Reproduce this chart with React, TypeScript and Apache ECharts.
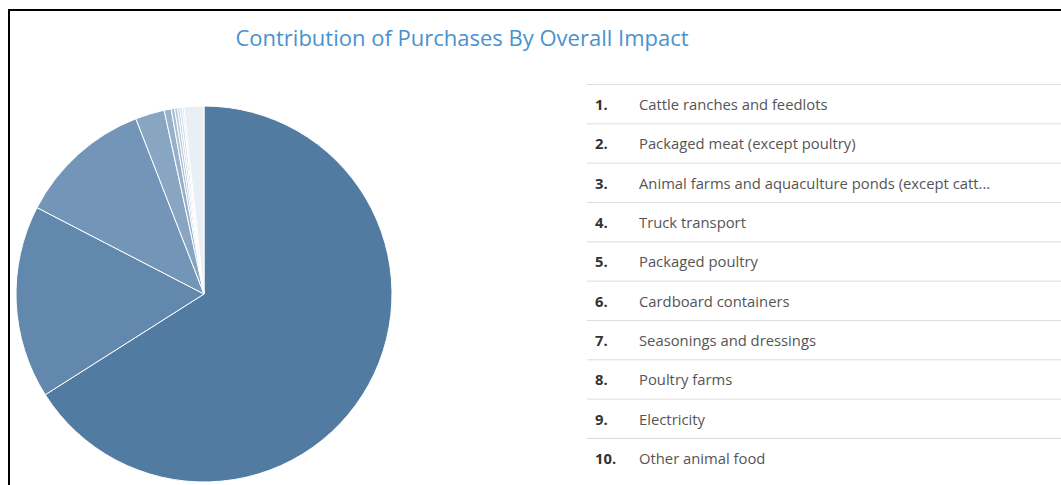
import React, { useEffect, useRef } from "react";
import * as echarts from "echarts";

const TITLE = "Contribution of Purchases By Overall Impact";

const categories = [
  "Cattle ranches and feedlots",
  "Packaged meat (except poultry)",
  "Animal farms and aquaculture ponds (except catt...",
  "Truck transport",
  "Packaged poultry",
  "Cardboard containers",
  "Seasonings and dressings",
  "Poultry farms",
  "Electricity",
  "Other animal food",
  "Other",
];

const values = [66.0, 16.6, 11.5, 2.5, 0.6, 0.3, 0.25, 0.2, 0.2, 0.15, 1.7];

const colors = [
  "#527ba2",
  "#6288ad",
  "#7395b7",
  "#88a5c2",
  "#98b1cb",
  "#a8bed5",
  "#b6c9dd",
  "#c3d3e5",
  "#cfdcea",
  "#dae4ef",
  "#e9eff5",
];

const listCount = 10;

export default function App() {
  const ref = useRef<HTMLDivElement>(null);

  useEffect(() => {
    if (!ref.current) return;
    const chart = echarts.init(ref.current, undefined, { renderer: "svg" });

    const rowTop = 84.5;
    const rowH = 39.33;
    const graphics: any[] = [
      {
        type: "line",
        shape: { x1: 8, y1: 10, x2: 1061, y2: 10 },
        style: { stroke: "#000", lineWidth: 2 },
      },
      {
        type: "line",
        shape: { x1: 9, y1: 10, x2: 9, y2: 485 },
        style: { stroke: "#000", lineWidth: 2 },
      },
    ];
    for (let i = 0; i < listCount; i++) {
      const y = rowTop + i * rowH;
      graphics.push({
        type: "line",
        shape: { x1: 587, y1: y, x2: 1061, y2: y },
        style: { stroke: "#dddddd", lineWidth: 1 },
      });
      graphics.push({
        type: "text",
        x: 595,
        y: y + rowH / 2,
        style: {
          text: `${i + 1}.`,
          font: "bold 14.8px 'Open Sans'",
          fill: "#333333",
          verticalAlign: "middle",
        },
      });
      graphics.push({
        type: "text",
        x: 639,
        y: y + rowH / 2,
        style: {
          text: categories[i],
          font: "14.8px 'Open Sans'",
          fill: "#555555",
          verticalAlign: "middle",
        },
      });
    }

    chart.setOption({
      animation: false,
      title: {
        text: TITLE,
        left: 457,
        top: 21,
        textAlign: "center",
        textStyle: {
          fontFamily: "Open Sans",
          fontSize: 22,
          fontWeight: "normal",
          color: "#4a92cf",
        },
      },
      color: colors,
      series: [
        {
          type: "pie",
          center: [204, 294],
          radius: 188,
          startAngle: 90,
          clockwise: true,
          label: { show: false },
          labelLine: { show: false },
          emphasis: { disabled: true },
          itemStyle: { borderColor: "#ffffff", borderWidth: 1 },
          data: categories.map((name, i) => ({ name, value: values[i] })),
        },
      ],
      graphic: graphics,
    });

    return () => chart.dispose();
  }, []);

  return (
    <div
      ref={ref}
      style={{ position: "absolute", left: 0, top: 0, width: 1061, height: 485 }}
    />
  );
}
